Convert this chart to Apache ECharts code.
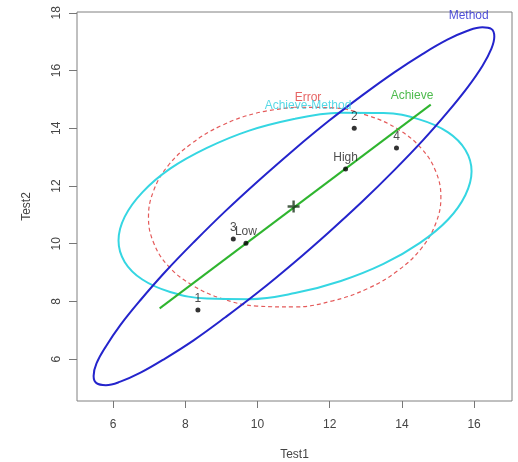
<!DOCTYPE html>
<html>
<head>
<meta charset="utf-8">
<script src="https://cdn.jsdelivr.net/npm/echarts@6/dist/echarts.min.js"></script>
<style>html,body{margin:0;padding:0;background:#fff}#c{width:518px;height:462px}</style>
</head>
<body>
<div id="c"></div>
<script>
// ---- data ----
const test1Ticks = [6, 8, 10, 12, 14, 16];
const test2Ticks = [6, 8, 10, 12, 14, 16, 18];

const pointNames = ['1', '2', '3', '4', 'Low', 'High'];
const pointTest1 = [8.35, 12.68, 9.33, 13.85, 9.68, 12.44];
const pointTest2 = [7.70, 14.00, 10.16, 13.32, 10.02, 12.59];

const centerTest1 = [11.0];
const centerTest2 = [11.29];

const achieveTest1 = [7.29, 14.80];
const achieveTest2 = [7.76, 14.82];

const methodTest1 = [11.01, 10.05, 9.11, 8.24, 7.44, 6.76, 6.20, 5.80, 5.54, 5.46, 5.54, 5.80, 6.20, 6.76, 7.44, 8.24, 9.11, 10.05, 11.01, 11.97, 12.91, 13.79, 14.58, 15.26, 15.82, 16.23, 16.48, 16.56, 16.48, 16.23, 15.82, 15.26, 14.58, 13.79, 12.91, 11.97, 11.01];
const methodTest2 = [13.26, 12.21, 11.13, 10.06, 9.02, 8.05, 7.18, 6.44, 5.85, 5.42, 5.17, 5.10, 5.22, 5.53, 6.02, 6.66, 7.45, 8.35, 9.34, 10.39, 11.47, 12.55, 13.58, 14.55, 15.42, 16.16, 16.76, 17.18, 17.44, 17.50, 17.38, 17.07, 16.58, 15.94, 15.15, 14.25, 13.26];

const amTest1 = [11.04, 9.77, 8.60, 7.58, 6.81, 6.32, 6.15, 6.32, 6.81, 7.58, 8.60, 9.77, 11.04, 12.31, 13.49, 14.50, 15.28, 15.76, 15.93, 15.76, 15.28, 14.50, 13.49, 12.31, 11.04];
const amTest2 = [14.33, 13.92, 13.32, 12.60, 11.78, 10.93, 10.11, 9.37, 8.76, 8.33, 8.10, 8.08, 8.29, 8.71, 9.30, 10.03, 10.84, 11.69, 12.51, 13.25, 13.86, 14.30, 14.53, 14.54, 14.33];

const errorTest1 = [11.03, 9.98, 9.01, 8.17, 7.52, 7.12, 6.98, 7.12, 7.52, 8.17, 9.01, 9.98, 11.03, 12.08, 13.06, 13.89, 14.54, 14.94, 15.08, 14.94, 14.54, 13.89, 13.06, 12.08, 11.03];
const errorTest2 = [14.73, 14.53, 14.10, 13.47, 12.70, 11.83, 10.92, 10.04, 9.24, 8.58, 8.10, 7.84, 7.81, 8.02, 8.45, 9.07, 9.84, 10.71, 11.62, 12.50, 13.30, 13.97, 14.44, 14.71, 14.73];

const noteTexts = ['Method', 'Achieve', 'Error', 'Achieve-Method'];
const noteTest1 = [15.85, 14.28, 11.40, 11.40];
const noteTest2 = [17.90, 15.14, 15.06, 14.78];
// ----------------------------------------------

const noteColors = ['#1f1fd0', '#22aa22', '#e03c3c', '#2ed0e0'];
const zip = (a, b) => a.map((v, i) => [v, b[i]]);
const FONT = 'Liberation Sans, Arial, sans-serif';

const chart = echarts.init(document.getElementById('c'), null, {renderer: 'canvas'});
chart.setOption({
  animation: false,
  backgroundColor: '#fff',
  grid: {left: 77, right: 6, top: 12, bottom: 61, show: true, borderColor: '#808080', borderWidth: 1, containLabel: false, outerBoundsMode: 'none'},
  xAxis: {
    type: 'value', min: 5.0, max: 17.05,
    name: 'Test1', nameLocation: 'middle', nameGap: 48,
    nameTextStyle: {fontFamily: FONT, fontSize: 12, color: '#444'},
    axisLine: {show: false},
    splitLine: {show: false},
    axisTick: {show: true, length: 7, customValues: test1Ticks, lineStyle: {color: '#777'}},
    axisLabel: {customValues: test1Ticks, margin: 18, fontFamily: FONT, fontSize: 12, color: '#444'}
  },
  yAxis: {
    type: 'value', min: 4.55, max: 18.03,
    name: 'Test2', nameLocation: 'middle', nameGap: 44, nameRotate: 90,
    nameTextStyle: {fontFamily: FONT, fontSize: 12, color: '#444'},
    axisLine: {show: false},
    splitLine: {show: false},
    axisTick: {show: true, length: 8, customValues: test2Ticks, lineStyle: {color: '#777'}},
    axisLabel: {customValues: test2Ticks, rotate: 90, margin: 14, fontFamily: FONT, fontSize: 12, color: '#444'}
  },
  series: [
    {type: 'line', data: zip(errorTest1, errorTest2), symbol: 'none', smooth: 0.4,
     lineStyle: {color: '#e45a5a', width: 1.2, type: [4, 3]}, z: 2},
    {type: 'line', data: zip(amTest1, amTest2), symbol: 'none', smooth: 0.4,
     lineStyle: {color: '#35d6e2', width: 2}, z: 3},
    {type: 'line', data: zip(methodTest1, methodTest2), symbol: 'none', smooth: 0.4,
     lineStyle: {color: '#2424cc', width: 2}, z: 4},
    {type: 'line', data: zip(achieveTest1, achieveTest2), symbol: 'none',
     lineStyle: {color: '#2fb52f', width: 2}, z: 5},
    {type: 'scatter', data: zip(pointTest1, pointTest2).map((p, i) => ({value: p, name: pointNames[i]})),
     symbol: 'circle', symbolSize: 5, itemStyle: {color: '#000'}, z: 6,
     label: {show: true, position: 'top', distance: 3, formatter: '{b}', fontFamily: FONT, fontSize: 12, color: '#222'}},
    {type: 'scatter', data: zip(centerTest1, centerTest2),
     symbol: 'path://M4,0H6V4H10V6H6V10H4V6H0V4H4Z', symbolSize: 12, itemStyle: {color: '#1c361c'}, z: 7},
    {type: 'scatter', data: zip(noteTest1, noteTest2).map((p, i) => ({value: p, name: noteTexts[i],
       label: {color: noteColors[i]}})),
     symbol: 'circle', symbolSize: 1, itemStyle: {color: 'rgba(0,0,0,0)'}, z: 8,
     label: {show: true, position: 'inside', formatter: '{b}', fontFamily: FONT, fontSize: 12}}
  ]
});
</script>
</body>
</html>
